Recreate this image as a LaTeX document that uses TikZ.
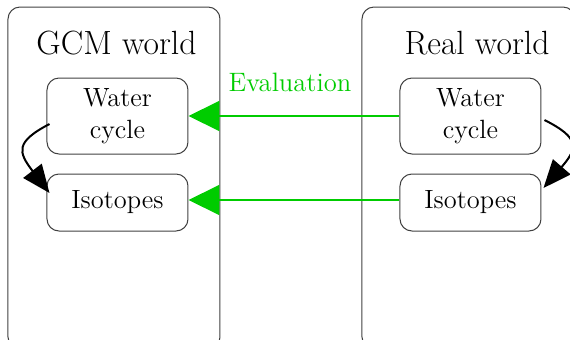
\documentclass[tikz,border=0pt]{standalone}
\usetikzlibrary{arrows.meta}
\definecolor{evalgreen}{RGB}{0,204,0}
\begin{document}
\begin{tikzpicture}[x=0.5pt,y=-0.5pt,
  world/.style={draw=black!75, line width=0.5pt, rounded corners=6pt, inner sep=0pt},
  part/.style={draw=black!75, line width=0.5pt, rounded corners=6pt, minimum width=70.5pt,
    align=center, font=\fontsize{13.2}{16}\selectfont, inner sep=0pt},
  title/.style={font=\fontsize{16.8}{20}\selectfont, inner sep=0pt},
  evalarrow/.style={draw=evalgreen, line width=1pt, -{Triangle[length=15.5pt,width=15pt]}},
  causal/.style={draw=black, line width=1pt, -{Triangle[length=14pt,width=11.5pt]}}]
\useasboundingbox (0,0) rectangle (570,339);

% the two worlds
\node[world, minimum width=106pt, minimum height=171pt] (gcm) at (114,178) {};
\node[world, minimum width=106.5pt, minimum height=171pt] (real) at (468.5,178) {};
\node[title] (gcmtitle) at (116.5,43) {GCM world};
\node[title] (realtitle) at (477,43) {Real world};

% components
\node[part, minimum height=38pt] (wl) at (117.5,116) {Water\\cycle};
\node[part, minimum height=28.5pt] (il) at (117.5,202.5) {Isotopes};
\node[part, minimum height=38pt] (wr) at (470.5,116) {Water\\cycle};
\node[part, minimum height=28.5pt] (ir) at (470.5,202.5) {Isotopes};

% evaluation links
\draw[evalarrow] (wr.west) -- (wl.east);
\draw[evalarrow] ([yshift=1.25pt]ir.west) -- ([yshift=1.25pt]il.east);
\node[text=evalgreen, font=\fontsize{13.3}{16}\selectfont, inner sep=0pt] (evallabel) at (290,82) {Evaluation};

% water cycle drives isotopes
\coordinate (wlout) at ([shift={(3,8)}]wl.west);
\coordinate (ilin) at ([shift={(3,-9.5)}]il.west);
\draw[causal] (wlout) .. controls (15,142) and (18,152) .. (ilin);
\coordinate (wrout) at ([shift={(3,4)}]wr.east);
\coordinate (irin) at ([shift={(2,-14.5)}]ir.east);
\draw[causal] (wrout) .. controls (580,138) and (578,148) .. (irin);
\end{tikzpicture}
\end{document}
